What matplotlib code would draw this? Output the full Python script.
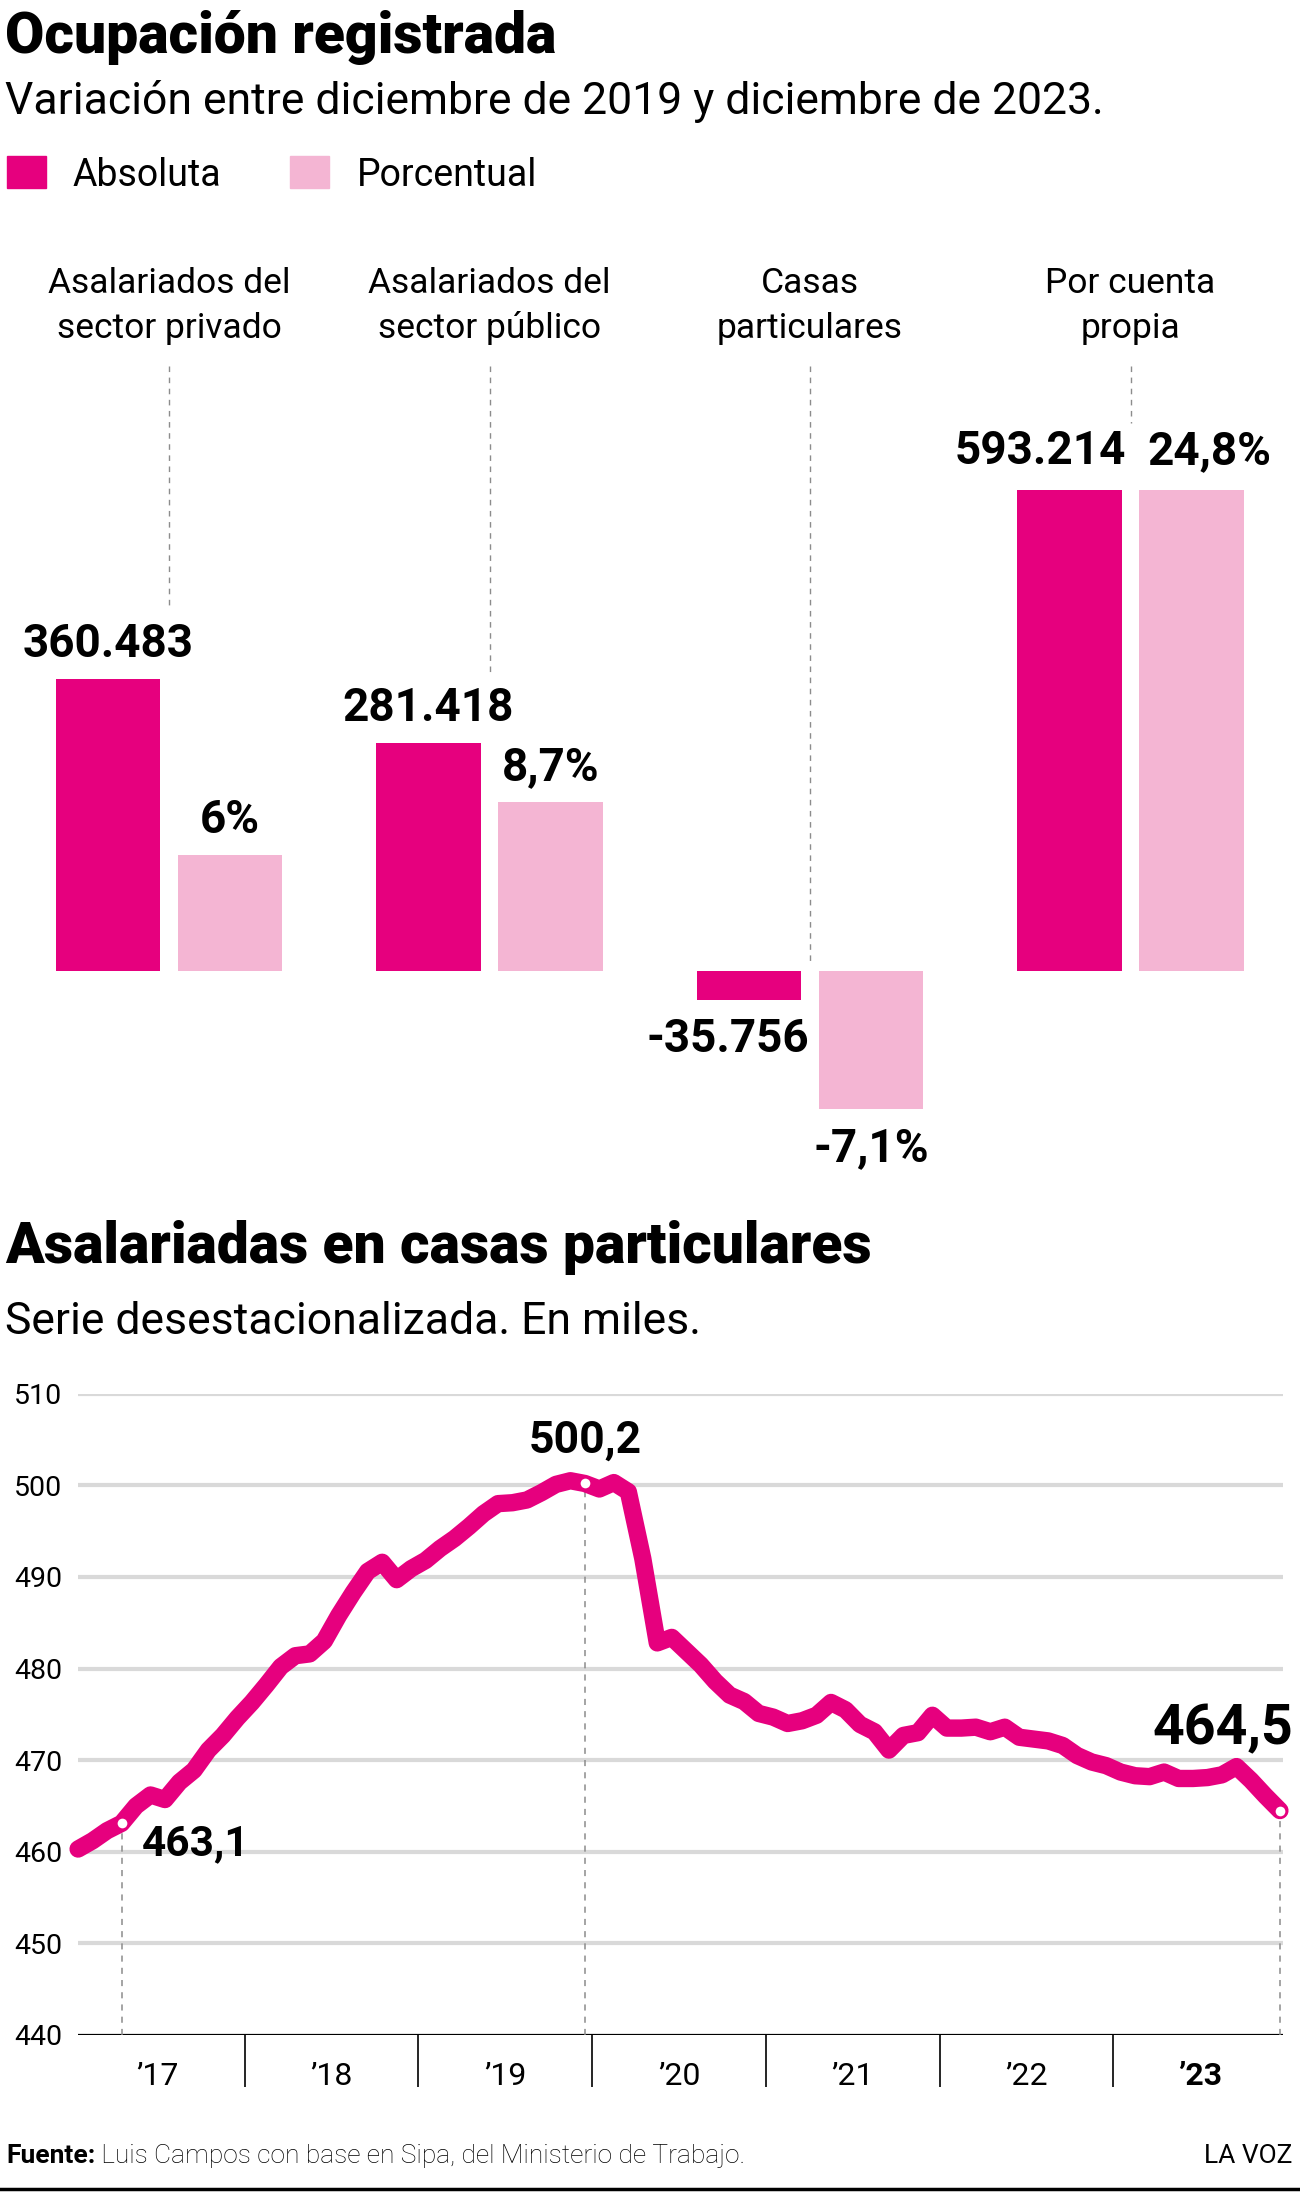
import matplotlib.pyplot as plt
from matplotlib.lines import Line2D
from matplotlib.patches import Rectangle
import numpy as np

plt.rcParams['font.family'] = ['Roboto', 'DejaVu Sans']

# bar chart data
categories = ['Asalariados del\nsector privado', 'Asalariados del\nsector público',
              'Casas\nparticulares', 'Por cuenta\npropia']
absolute = [360483, 281418, -35756, 593214]
percent = [6.0, 8.7, -7.1, 24.8]
abs_labels = ['360.483', '281.418', '-35.756', '593.214']
pct_labels = ['6%', '8,7%', '-7,1%', '24,8%']

# line chart data (monthly, Jan 2017 - Dec 2023, thousands)
domestic = [460.3, 461.2, 462.3, 463.1, 465.0, 466.2, 465.7, 467.6, 468.9, 471.1, 472.7, 474.6,
            476.3, 478.2, 480.2, 481.4, 481.6, 483.0, 485.8, 488.3, 490.6, 491.6, 489.7, 490.9,
            491.8, 493.1, 494.2, 495.5, 496.9, 498.0, 498.1, 498.4, 499.2, 500.1, 500.5, 500.2,
            499.6, 500.3, 499.3, 492.0, 482.8, 483.4, 481.9, 480.4, 478.6, 477.1, 476.4, 475.1,
            474.7, 474.0, 474.3, 474.9, 476.3, 475.5, 473.9, 473.1, 471.1, 472.7, 473.0, 474.9,
            473.5, 473.5, 473.6, 473.1, 473.6, 472.5, 472.3, 472.1, 471.6, 470.5, 469.8, 469.4,
            468.7, 468.3, 468.2, 468.7, 468.0, 468.0, 468.1, 468.4, 469.3, 467.8, 466.1, 464.5]
years = ['’17', '’18', '’19', '’20', '’21', '’22', '’23']
highlights = [3, 35, 83]
highlight_labels = ['463,1', '500,2', '464,5']

W, H = 1300, 2192
PINK = '#E6007E'
LIGHT = '#F4B5D3'
GRID = '#D9D9D9'


def fx(px):
    return px / W


def fy(py):
    return 1 - py / H


fig = plt.figure(figsize=(13, 21.92), dpi=100)

# titles and legend
fig.text(fx(5), fy(53), 'Ocupación registrada', fontsize=41, weight='black', va='baseline')
fig.text(fx(5), fy(114), 'Variación entre diciembre de 2019 y diciembre de 2023.',
         fontsize=32, va='baseline')
fig.add_artist(Rectangle((fx(7), fy(188)), fx(39), 32 / H, color=PINK, transform=fig.transFigure))
fig.text(fx(73), fy(186), 'Absoluta', fontsize=27, va='baseline')
fig.add_artist(Rectangle((fx(290), fy(188)), fx(39), 32 / H, color=LIGHT, transform=fig.transFigure))
fig.text(fx(357), fy(186), 'Porcentual', fontsize=27, va='baseline')

# bar chart: two series, each on its own scale
base, top, bot = 971, 400, 1180
px_abs, px_pct = 0.00081, 19.4
ax = fig.add_axes([0, fy(bot), 1, (bot - top) / H])
ax.set_ylim(-(bot - base) / px_abs, (base - top) / px_abs)
ax2 = ax.twinx()
ax2.set_ylim(-(bot - base) / px_pct, (base - top) / px_pct)
gs = 320.5
x = np.arange(len(categories))
ax.set_xlim(-169 / gs, (W - 169) / gs)
off, bw = 61 / gs, 104.5 / gs
ax.bar(x - off, absolute, bw, color=PINK)
ax2.bar(x + off, percent, bw, color=LIGHT)
for a in (ax, ax2):
    a.axis('off')

abs_dx = [0, 0, -21, -29]
pct_dx = [0, 0, 0, 18]
for i in range(len(categories)):
    for a, xs, v, lab, dx in ((ax, i - off, absolute[i], abs_labels[i], abs_dx[i]),
                              (ax2, i + off, percent[i], pct_labels[i], pct_dx[i])):
        dy = (22 if i < 3 else 26) if v >= 0 else -52
        a.annotate(lab, (xs, v), xytext=(dx * 0.72, dy * 0.72), textcoords='offset points',
                   ha='center', va='baseline', fontsize=33, weight='bold', annotation_clip=False)

guide_end = [605, 672, 963, 423]
for i, cat in enumerate(categories):
    cx = 169 + i * gs
    l1, l2 = cat.split('\n')
    fig.text(fx(cx), fy(293), l1, fontsize=25.5, ha='center', va='baseline')
    fig.text(fx(cx), fy(338), l2, fontsize=25.5, ha='center', va='baseline')
    fig.add_artist(Line2D([fx(cx)] * 2, [fy(366), fy(guide_end[i])], color='#8c8c8c',
                          lw=1, ls=(0, (4, 4))))

# line chart
fig.text(fx(5), fy(1263), 'Asalariadas en casas particulares', fontsize=41, weight='black',
         va='baseline')
fig.text(fx(5), fy(1334), 'Serie desestacionalizada. En miles.', fontsize=32, va='baseline')

ax3 = fig.add_axes([fx(78.1), fy(2035), (1282.8 - 78.1) / W, (2035 - 1393.7) / H])
ax3.set_xlim(0, 83.2)
ax3.set_ylim(440, 510)
for s in ax3.spines.values():
    s.set_visible(False)
for g in range(450, 511, 10):
    ax3.axhline(g, color=GRID, lw=3, zorder=0)
ax3.axhline(440, color='black', lw=1.6, zorder=1)
ax3.set_yticks(range(440, 511, 10))
ax3.tick_params(axis='y', length=0, pad=11.5, labelsize=20.5)
ax3.set_xticks([])

months = np.arange(len(domestic))
hv = [domestic[i] for i in highlights]
ax3.vlines(highlights, 440, hv, colors='#8c8c8c', lw=1.1, linestyles=(0, (4, 4)), zorder=2)
ax3.plot(months, domestic, color=PINK, lw=12.5, solid_joinstyle='round',
         solid_capstyle='round', clip_on=False, zorder=3)
ax3.plot(highlights, hv, 'o', ms=8.5, mfc='white', mec=PINK, mew=1.5, clip_on=False, zorder=4)

ax3.annotate(highlight_labels[0], (highlights[0], hv[0]), xytext=(20 * 0.72, -32 * 0.72),
             textcoords='offset points', ha='left', va='baseline', fontsize=30.5, weight='bold')
ax3.annotate(highlight_labels[1], (highlights[1], hv[1]), xytext=(0, 31 * 0.72),
             textcoords='offset points', ha='center', va='baseline', fontsize=32, weight='bold')
ax3.annotate(highlight_labels[2], (highlights[2], hv[2]), xytext=(13 * 0.72, 66 * 0.72),
             textcoords='offset points', ha='right', va='baseline', fontsize=40, weight='bold',
             annotation_clip=False)

bounds = [12 * k - 0.5 for k in range(1, len(years))]
ax3.vlines(bounds, 440 - 52 / 9.16, 440, colors='black', lw=1.2, clip_on=False)
for k, yl in enumerate(years):
    ax3.text(12 * k + 5.5, 440 - 50 / 9.16, yl, ha='center', va='baseline', fontsize=23,
             weight='bold' if k == len(years) - 1 else 'normal')

# footer
t1 = fig.text(fx(6), fy(2163), 'Fuente:', fontsize=19, weight='bold', va='baseline')
ax3.annotate(' Luis Campos con base en Sipa, del Ministerio de Trabajo.', xy=(1, 0),
             xycoords=t1, va='bottom', ha='left', fontsize=19, weight='light',
             annotation_clip=False)
fig.text(fx(1292), fy(2163), 'LA VOZ', fontsize=19, ha='right', va='baseline')
fig.add_artist(Line2D([0, 1], [fy(2189)] * 2, color='black', lw=2.5))

fig.savefig('out.png', dpi=100)
